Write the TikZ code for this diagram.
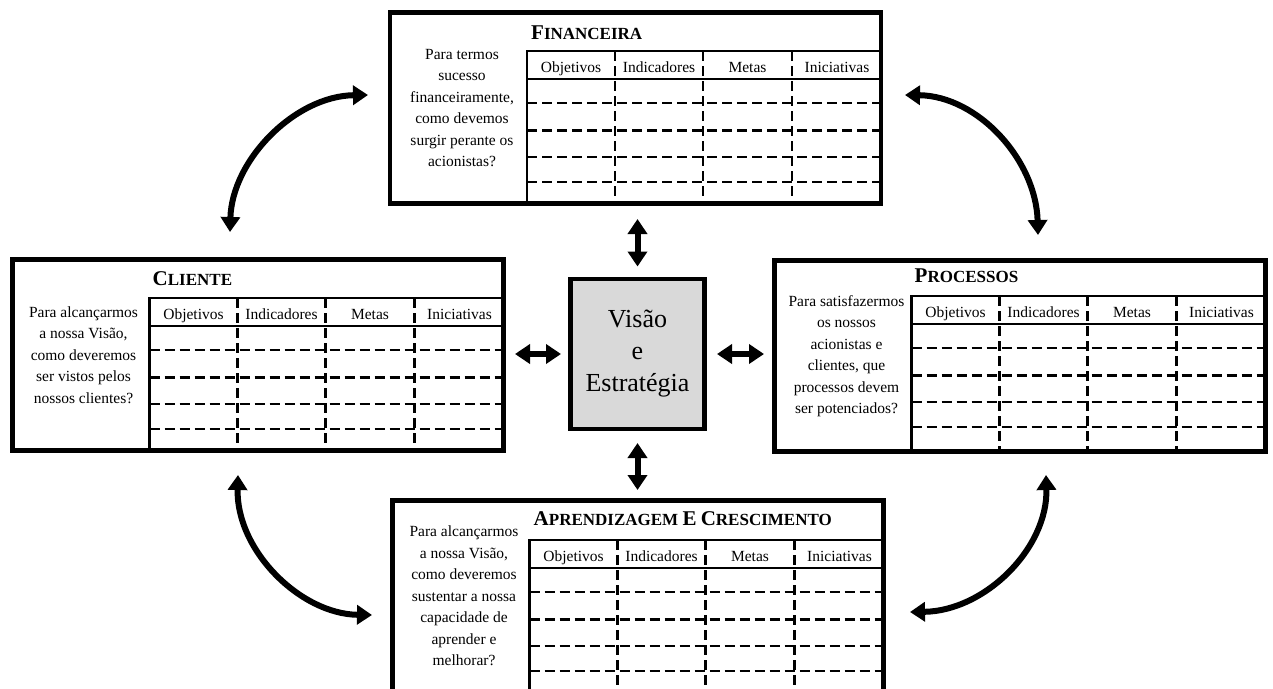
\documentclass[tikz,border=0pt]{standalone}
\usepackage{fontspec}
\setmainfont{Liberation Serif}
\usetikzlibrary{arrows.meta,calc}
\tikzset{caixa/.style = {%
  draw = black,
  line width = 4.5pt,
  inner sep = 0pt,
  outer sep = 0pt,
  minimum width = 491pt,
  minimum height = 191pt,
  anchor = north west
 },
 traco/.style = {line width = 2.6pt},
 tracejado/.style = {line width = 2.4pt, dash pattern = on 10pt off 5pt},
 titulo/.style = {inner sep = 0pt, anchor = base west, font = \bfseries\fontsize{17}{17}\selectfont},
 cabecalho/.style = {inner sep = 0pt, anchor = base, font = \fontsize{15.5}{18}\selectfont},
 pergunta/.style = {inner sep = 0pt, align = center, font = \fontsize{15.5}{21.5}\selectfont},
 seta/.style = {line width = 6pt, {Triangle[length=15pt,width=19pt]}-{Triangle[length=15pt,width=19pt]}}
}
\newcommand\versal[2]{{\fontsize{21}{21}\selectfont #1\fontsize{17}{17}\selectfont #2}}
% table of one perspective: node name, offset of the table top
\newcommand\grelha[2]{%
  \coordinate (#1-t) at ($(#1.north west)+(137,#2)$);
  \draw[traco] (#1-t -| #1.east) -- (#1-t) -- (#1-t |- #1.south);
  \coordinate (#1-h) at ($(#1-t)+(0,28)$);
  \draw[traco] (#1-h) -- (#1-h -| #1.east);
  \foreach \dy in {52,79.5,106,131}
    \draw[tracejado] ($(#1-t)+(0,\dy)$) -- ($(#1-t)+(354,\dy)$);
  \foreach \dx in {88,176,265}
    \draw[tracejado] ($(#1-t)+(\dx,0)$) -- ($(#1.south west)+(137+\dx,0)$);
  \foreach \cx/\txt [count=\i] in {44/Objetivos,132/Indicadores,220.5/Metas,310/Iniciativas}
    \node[cabecalho] (#1-c\i) at ($(#1-t)+(\cx,21)$) {\txt};
}

\begin{document}
\begin{tikzpicture}[x=1pt,y=-1pt]
      \useasboundingbox (0,0) rectangle (1273,688);
      \clip (0,0) rectangle (1273,688);

      % perspectives
      \node[caixa] (fin) at (390,12.5) {};
      \node[caixa] (cli) at (12.5,259.5) {};
      \node[caixa] (proc) at (774.5,260.5) {};
      \node[caixa] (apr) at (392.5,500.5) {};
      \grelha{fin}{38.5}
      \grelha{cli}{38.5}
      \grelha{proc}{35.5}
      \grelha{apr}{39.5}

      \node[titulo] (fin-tit) at ($(fin.north west)+(141,26.5)$) {\versal{F}{INANCEIRA}};
      \node[titulo] (cli-tit) at ($(cli.north west)+(140,25.5)$) {\versal{C}{LIENTE}};
      \node[titulo] (proc-tit) at ($(proc.north west)+(140,21.5)$) {\versal{P}{ROCESSOS}};
      \node[titulo] (apr-tit) at ($(apr.north west)+(141,24.5)$) {\versal{A}{PRENDIZAGEM} \versal{E}{} \versal{C}{RESCIMENTO}};

      \node[pergunta] (fin-q) at ($(fin.west)+(72,0)$) {Para termos\\sucesso\\financeiramente,\\como devemos\\surgir perante os\\acionistas?};
      \node[pergunta] (cli-q) at ($(cli.west)+(71,0)$) {Para alcançarmos\\a nossa Visão,\\como deveremos\\ser vistos pelos\\nossos clientes?};
      \node[pergunta] (proc-q) at ($(proc.west)+(72,0)$) {Para satisfazermos\\os nossos\\acionistas e\\clientes, que\\processos devem\\ser potenciados?};
      \node[pergunta] (apr-q) at ($(apr.west)+(71.5,0)$) {Para alcançarmos\\a nossa Visão,\\como deveremos\\sustentar a nossa\\capacidade de\\aprender e\\melhorar?};

      % centre
      \node[caixa, fill=black!15, minimum width=134pt, minimum height=150pt, anchor=center,
            align=center, font=\fontsize{26}{32}\selectfont] (vis) at (637.5,354) {Visão\\e\\Estratégia};

      \draw[seta, shorten <=15.5pt, shorten >=12.5pt] (fin.south -| vis.north) -- (vis.north);
      \draw[seta, shorten <=14pt, shorten >=10.5pt] (vis.south) -- (vis.south |- apr.north);
      \draw[seta, shorten <=11.5pt, shorten >=9.5pt] (cli.east |- vis.west) -- (vis.west);
      \draw[seta, shorten <=12.5pt, shorten >=10.5pt] (vis.east) -- (vis.east -| proc.west);

      % curved arrows between the perspectives
      \coordinate (tl1) at (230,232);
      \coordinate (tl2) at (368,95);
      \coordinate (tr1) at (905,95);
      \coordinate (tr2) at (1038,235);
      \coordinate (bl1) at (238,475);
      \coordinate (bl2) at (372,615);
      \coordinate (br1) at (1046,475);
      \coordinate (br2) at (910,612);
      \draw[seta] (tl1) .. controls (232,160) and (295,96) .. (tl2);
      \draw[seta] (tr1) .. controls (978,96) and (1036,160) .. (tr2);
      \draw[seta] (bl1) .. controls (236,550) and (300,614) .. (bl2);
      \draw[seta] (br1) .. controls (1048,548) and (985,611) .. (br2);
     \end{tikzpicture}
\end{document}
